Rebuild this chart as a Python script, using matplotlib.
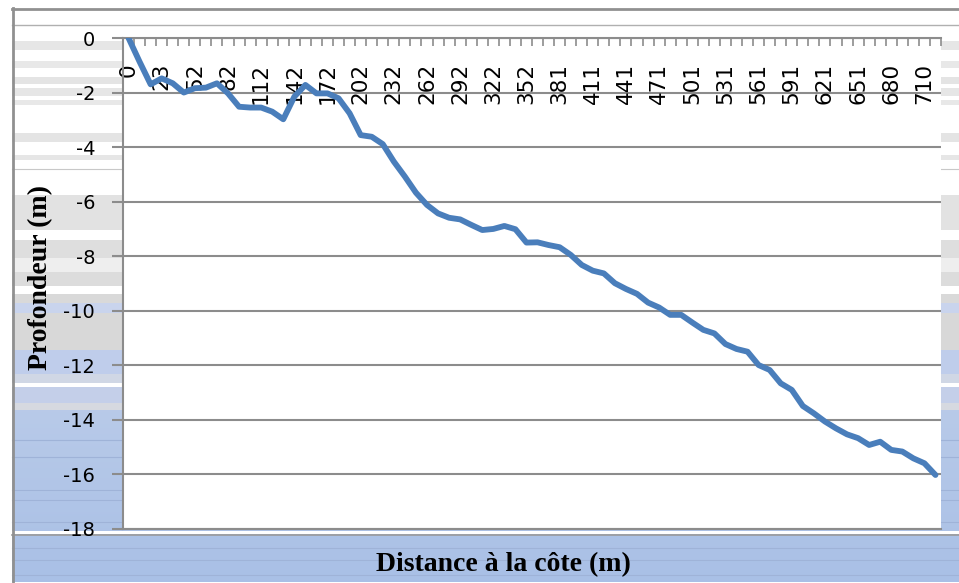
import matplotlib
matplotlib.use('Agg')
import matplotlib.pyplot as plt
from matplotlib.patches import Rectangle
import numpy as np

plt.rcParams['axes.unicode_minus'] = False

profondeur = [0.0, -0.87, -1.70, -1.48, -1.66, -2.00, -1.84, -1.82, -1.66, -2.03,
              -2.52, -2.55, -2.55, -2.70, -2.98, -2.15, -1.72, -2.03, -2.03, -2.21,
              -2.76, -3.56, -3.62, -3.89, -4.53, -5.08, -5.67, -6.12, -6.43, -6.59,
              -6.65, -6.85, -7.04, -7.00, -6.89, -7.01, -7.50, -7.49, -7.59, -7.67,
              -7.95, -8.32, -8.53, -8.63, -8.99, -9.20, -9.38, -9.70, -9.88, -10.15,
              -10.15, -10.43, -10.70, -10.83, -11.22, -11.40, -11.50, -11.99, -12.17, -12.66,
              -12.90, -13.49, -13.76, -14.06, -14.31, -14.53, -14.67, -14.92, -14.80, -15.10,
              -15.16, -15.41, -15.59, -16.02]
# etiquettes de l'axe des distances (une categorie sur trois)
distances = ['0', '23', '52', '82', '112', '142', '172', '202', '232', '262', '292',
             '322', '352', '381', '411', '441', '471', '501', '531', '561', '591',
             '621', '651', '680', '710']
pas_etiquette = 3

W, H = 959, 583
fig = plt.figure(figsize=(W/100, H/100), dpi=100)
fig.patch.set_facecolor('white')

# fond degrade / raye de la zone de graphique (coordonnees pixel)
bg = fig.add_axes([0, 0, 1, 1], zorder=-5)
bg.set_xlim(0, W)
bg.set_ylim(H, 0)
bg.axis('off')

bandes = [
    (25, 160, '#ffffff'),
    (41, 50, '#e6e6e6'), (61, 68, '#e8e8e8'), (77, 84, '#e4e4e4'),
    (88, 96, '#e6e6e6'), (100, 105, '#e8e8e8'), (133, 142, '#e4e4e4'),
    (155, 160, '#e6e6e6'),
    (195, 230, '#e2e2e2'), (240, 258, '#dedede'), (258, 272, '#eeeeee'),
    (272, 286, '#dcdcdc'), (294, 303, '#d9d9d9'), (303, 313, '#c9d4ed'),
    (313, 350, '#d8d8d8'), (350, 374, '#bfcdeb'), (374, 383, '#d0d7e5'),
    (387, 403, '#c4cfe9'), (403, 410, '#d6d9e0'),
]
for y0, y1, c in bandes:
    bg.add_patch(Rectangle((12, y0), W - 12, y1 - y0, color=c, lw=0))

# zone bleue du bas, degrade
ys = np.arange(410, H + 1, 2)
for y in ys[:-1]:
    t = (y - 410) / (H - 410)
    c = (0.72 - 0.06*t, 0.79 - 0.04*t, 0.91 - 0.01*t)
    bg.add_patch(Rectangle((12, y), W - 12, 2.2, color=c, lw=0))
bg.plot([12, W], [169, 169], color='#c8c8c8', lw=0.8)
for y in [440, 457, 490, 500, 522, 548, 560, 575]:
    bg.plot([12, W], [y, y], color='#9fb3d8', lw=0.8)
bg.add_patch(Rectangle((12, 383), W - 12, 4, color='white', lw=0))
bg.add_patch(Rectangle((12, 531), W - 12, 3, color='white', lw=0))
bg.plot([12, W], [535, 535], color='#9a9a9a', lw=1.2)
bg.plot([12, W], [25, 25], color='#b0b0b0', lw=1.0)
bg.plot([12, W], [9, 9], color='#909090', lw=2.0)
bg.plot([12.5, 12.5], [8, H], color='#909090', lw=2.0)

# zone de trace
g, d, h, b = 123, 941, 38, 529
ax = fig.add_axes([g/W, 1 - b/H, (d - g)/W, (b - h)/H])
ax.set_facecolor('white')

x = np.arange(len(profondeur))
ax.plot(x, profondeur, color='#4a7ebb', lw=4.2,
        solid_joinstyle='round', solid_capstyle='round', zorder=3)

ax.set_xlim(-0.5, len(profondeur) - 0.5)
ax.set_ylim(-18, 0)

ax.set_yticks(np.arange(-18, 1, 2))
ax.set_yticklabels([str(v) for v in range(-18, 1, 2)])
ax.grid(axis='y', color='#8c8c8c', lw=1.5)
ax.tick_params(axis='y', direction='out', length=8, width=1.5, color='#8c8c8c',
               labelsize=14, pad=12)

# graduations de categories en haut, vers l'interieur
ax.xaxis.set_ticks_position('top')
ax.set_xticks(np.arange(-0.5, len(profondeur), 1))
ax.set_xticklabels([])
ax.tick_params(axis='x', direction='in', length=6, width=1.2, color='#8c8c8c')

pos_etiquettes = x[::pas_etiquette][:len(distances)]
for xi, lab in zip(pos_etiquettes, distances):
    ax.text(xi, 1 - 25/(b - h), lab, transform=ax.get_xaxis_transform(),
            rotation=90, ha='center', va='top', fontsize=15.5, zorder=2)

for s in ['top', 'bottom', 'left']:
    ax.spines[s].set_color('#8c8c8c')
    ax.spines[s].set_linewidth(1.5)
ax.spines['right'].set_visible(False)

fig.text(41/W, 1 - 277/H, 'Profondeur (m)', rotation=90, ha='center', va='center',
         family='Liberation Serif', weight='bold', fontsize=20)
fig.text(503/W, 1 - 565/H, 'Distance à la côte (m)', ha='center', va='center',
         family='Liberation Serif', weight='bold', fontsize=20)

plt.savefig('out.png', dpi=100)
